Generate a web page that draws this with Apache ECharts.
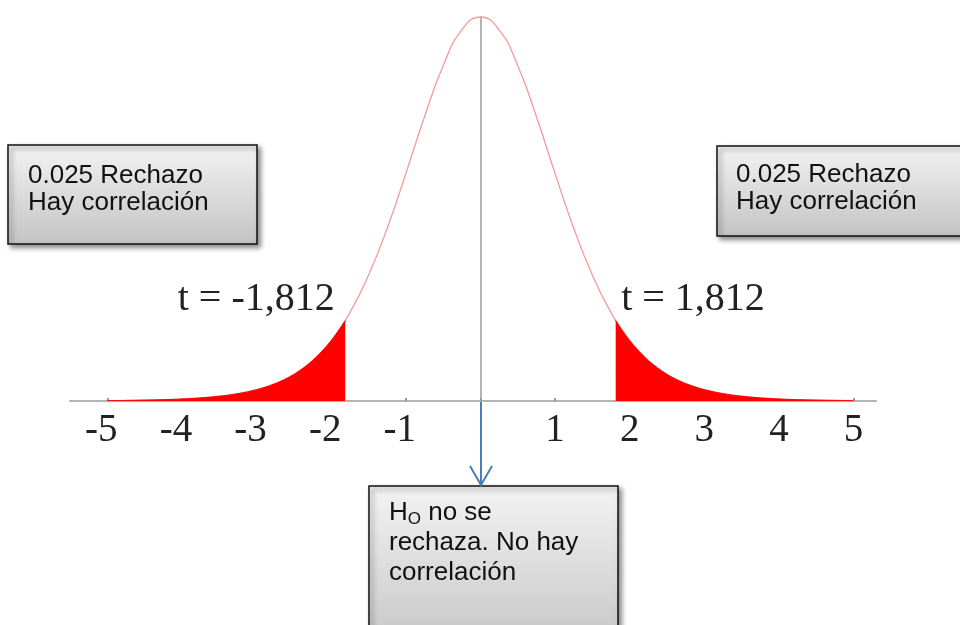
<!DOCTYPE html>
<html>
<head>
<meta charset="utf-8">
<title>Distribución t</title>
<script src="https://cdn.jsdelivr.net/npm/echarts@6/dist/echarts.min.js"></script>
<style>
  html, body { margin: 0; padding: 0; background: #fff; }
  #chart { width: 960px; height: 625px; }
</style>
</head>
<body>
<div id="chart"></div>
<script>
// curve points (t, density)
const tValues = [
  -5, -4.75, -4.5, -4.25, -4, -3.75, -3.5, -3.25, -3, -2.75, -2.5, -2.25, -2, -1.75, -1.5, -1.25, -1, -0.75, -0.5, -0.25,
  0,
  0.25, 0.5, 0.75, 1, 1.25, 1.5, 1.75, 2, 2.25, 2.5, 2.75, 3, 3.25, 3.5, 3.75, 4, 4.25, 4.5, 4.75, 5
];
const density = [
  0.0004, 0.0006, 0.0009, 0.0013, 0.0020, 0.0031, 0.0048, 0.0074, 0.0114, 0.0176, 0.0269, 0.0409, 0.0611, 0.0895, 0.1274, 0.1751, 0.2304, 0.2880, 0.3397, 0.3760,
  0.3891,
  0.3760, 0.3397, 0.2880, 0.2304, 0.1751, 0.1274, 0.0895, 0.0611, 0.0409, 0.0269, 0.0176, 0.0114, 0.0074, 0.0048, 0.0031, 0.0020, 0.0013, 0.0009, 0.0006, 0.0004
];
const tCrit = 1.812;
const critDensity = 0.0816;
const tickValues = [-5, -4, -3, -2, -1, 0, 1, 2, 3, 4, 5];
const tickLabels = [-5, -4, -3, -2, -1, 1, 2, 3, 4, 5];

const curve = tValues.map((t, i) => [t, density[i]]);
const leftTail = curve.filter(p => p[0] <= -tCrit).concat([[-tCrit, critDensity]]);
const rightTail = [[tCrit, critDensity]].concat(curve.filter(p => p[0] >= tCrit));
const critText = String(tCrit).replace('.', ',');

const serif = '"Liberation Serif", "Times New Roman", serif';

const boxFill = new echarts.graphic.LinearGradient(0, 0, 0, 1, [
  { offset: 0, color: '#f3f3f3' },
  { offset: 1, color: '#c3c3c3' }
]);

function box(x, y, w, h) {
  return {
    type: 'rect',
    shape: { x: x, y: y, width: w, height: h },
    style: {
      fill: boxFill,
      stroke: '#111',
      lineWidth: 1.5,
      shadowBlur: 5,
      shadowOffsetX: 3,
      shadowOffsetY: 3,
      shadowColor: 'rgba(0,0,0,0.45)'
    },
    z: 10
  };
}

function boxText(x, y, text, lh) {
  return {
    type: 'text',
    x: x,
    y: y,
    z: 11,
    style: {
      text: text,
      fill: '#111',
      font: '26px "Liberation Sans", Arial, sans-serif',
      lineHeight: lh,
      verticalAlign: 'top'
    }
  };
}

const chart = echarts.init(document.getElementById('chart'), null, { renderer: 'canvas' });

const option = {
  animation: false,
  backgroundColor: '#fff',
  grid: { left: 70, right: 84, top: 17, bottom: 224 },
  xAxis: {
    type: 'value',
    min: -5.5,
    max: 5.3,
    splitLine: { show: false },
    axisLine: { onZero: true, lineStyle: { color: '#b4b4b4', width: 2 } },
    axisTick: {
      show: true,
      inside: true,
      length: 3,
      customValues: tickValues,
      lineStyle: { color: '#999', width: 2 }
    },
    axisLabel: {
      customValues: tickLabels,
      margin: 10,
      color: '#222',
      fontFamily: serif,
      fontSize: 39,
      formatter: v => (v < 0 ? '{neg|' + v + '}' : String(v)),
      rich: {
        neg: {
          color: '#222',
          fontFamily: serif,
          fontSize: 39,
          padding: [0, 12, 0, 0]
        }
      }
    }
  },
  yAxis: {
    type: 'value',
    min: 0,
    max: 0.3891,
    splitLine: { show: false },
    axisLine: { show: true, onZero: true, lineStyle: { color: '#b4b4b4', width: 2 } },
    axisTick: { show: false },
    axisLabel: { show: false }
  },
  series: [
    {
      name: 'densidad',
      type: 'line',
      data: curve,
      smooth: true,
      showSymbol: false,
      lineStyle: { color: '#f39a9a', width: 1.3 },
      z: 3
    },
    {
      name: 'cola izquierda',
      type: 'line',
      data: leftTail,
      smooth: 0.3,
      showSymbol: false,
      lineStyle: { color: '#ff0000', width: 1 },
      areaStyle: { color: '#ff0000', opacity: 1 },
      z: 4,
      markPoint: {
        symbol: 'circle',
        symbolSize: 1,
        itemStyle: { color: 'rgba(0,0,0,0)' },
        data: [{
          coord: [-tCrit, critDensity],
          label: {
            show: true,
            position: 'left',
            distance: 10,
            offset: [0, -21],
            formatter: 't = -' + critText,
            color: '#222',
            fontFamily: serif,
            fontSize: 40
          }
        }]
      }
    },
    {
      name: 'cola derecha',
      type: 'line',
      data: rightTail,
      smooth: 0.3,
      showSymbol: false,
      lineStyle: { color: '#ff0000', width: 1 },
      areaStyle: { color: '#ff0000', opacity: 1 },
      z: 4,
      markPoint: {
        symbol: 'circle',
        symbolSize: 1,
        itemStyle: { color: 'rgba(0,0,0,0)' },
        data: [{
          coord: [tCrit, critDensity],
          label: {
            show: true,
            position: 'right',
            distance: 5,
            offset: [0, -21],
            formatter: 't = ' + critText,
            color: '#222',
            fontFamily: serif,
            fontSize: 40
          }
        }]
      }
    }
  ],
  graphic: [
    // left box
    box(8, 145, 249, 99),
    boxText(28, 162, '0.025 Rechazo\nHay correlación', 27),
    // right box
    box(717, 146, 270, 90),
    boxText(736, 161, '0.025 Rechazo\nHay correlación', 27),
    // arrow
    {
      type: 'line',
      shape: { x1: 481, y1: 402, x2: 481, y2: 485 },
      style: { stroke: '#4a7ebb', lineWidth: 2 },
      z: 12
    },
    {
      type: 'polyline',
      shape: { points: [[470, 466], [481, 485], [492, 466]] },
      style: { stroke: '#4a7ebb', lineWidth: 2, fill: null },
      z: 12
    },
    // bottom box
    box(369, 486, 249, 170),
    {
      type: 'text',
      x: 389,
      y: 498,
      z: 11,
      style: {
        text: '{n|H}{s|O}{n| no se}\n{n|rechaza. No hay}\n{n|correlación}',
        verticalAlign: 'top',
        rich: {
          n: {
            fill: '#111',
            font: '26px "Liberation Sans", Arial, sans-serif',
            lineHeight: 30
          },
          s: {
            fill: '#111',
            font: '17px "Liberation Sans", Arial, sans-serif',
            lineHeight: 16,
            verticalAlign: 'bottom'
          }
        }
      }
    }
  ]
};

chart.setOption(option);

window.addEventListener('resize', () => {
  chart.resize();
});
</script>
</body>
</html>
